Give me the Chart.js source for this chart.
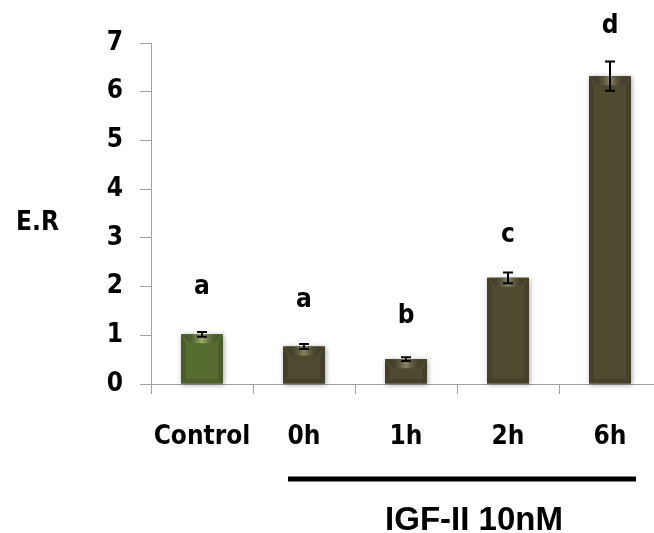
<!DOCTYPE html>
<html>
<head>
<meta charset="utf-8">
<script src="https://cdn.jsdelivr.net/npm/chart.js@4/dist/chart.umd.min.js"></script>
<style>
  html, body { margin: 0; padding: 0; background: #ffffff; overflow: hidden; }
  canvas { display: block; }
</style>
</head>
<body>
<canvas id="chart" width="661" height="533"></canvas>
<script>
// Relative expression (E.R) per group
const categories = ['Control', '0h', '1h', '2h', '6h'];
const means = [1.02, 0.77, 0.51, 2.18, 6.32];
const errors = [0.05, 0.05, 0.04, 0.11, 0.30];
// significance letters and the level (in E.R units) of their baseline
const letters = ['a', 'a', 'b', 'c', 'd'];
const letterLevels = [1.85, 1.58, 1.25, 2.92, 7.21];
const yTicks = [0, 1, 2, 3, 4, 5, 6, 7];

const LABEL_FONT = "'DejaVu Sans Condensed', 'DejaVu Sans', sans-serif";
const barColors = ['#566b30', '#4e4a2f', '#4e4a2f', '#4e4a2f', '#4e4a2f'];
const bevelLight = ['rgba(165,185,115,0.9)', 'rgba(145,140,105,0.9)', 'rgba(145,140,105,0.9)', 'rgba(145,140,105,0.9)', 'rgba(145,140,105,0.9)'];

function barRect(el) {
  const p = el.getProps(['x', 'y', 'base', 'width'], true);
  return { left: p.x - p.width / 2, right: p.x + p.width / 2, top: Math.min(p.y, p.base), bottom: Math.max(p.y, p.base), cx: p.x };
}

// soft drop shadow behind each bar
const barShadow = {
  id: 'barShadow',
  beforeDatasetsDraw(chart) {
    const ctx = chart.ctx;
    const meta = chart.getDatasetMeta(0);
    meta.data.forEach((el, i) => {
      const r = barRect(el);
      ctx.save();
      ctx.shadowColor = 'rgba(0,0,0,0.35)';
      ctx.shadowBlur = 5;
      ctx.shadowOffsetX = 1;
      ctx.shadowOffsetY = 1;
      ctx.fillStyle = barColors[i];
      ctx.fillRect(r.left, r.top, r.right - r.left, r.bottom - r.top);
      ctx.restore();
    });
  }
};

// bevel shading, error bars and group letters
const barDecor = {
  id: 'barDecor',
  afterDatasetsDraw(chart) {
    const ctx = chart.ctx;
    const y = chart.scales.y;
    const meta = chart.getDatasetMeta(0);
    meta.data.forEach((el, i) => {
      const r = barRect(el);
      const b = Math.min(9, (r.bottom - r.top) / 2);
      ctx.save();
      // top bevel
      const g = ctx.createLinearGradient(r.left, 0, r.right, 0);
      g.addColorStop(0, 'rgba(0,0,0,0.05)');
      g.addColorStop(0.5, bevelLight[i]);
      g.addColorStop(1, 'rgba(0,0,0,0.05)');
      ctx.fillStyle = g;
      ctx.beginPath();
      ctx.moveTo(r.left, r.top);
      ctx.lineTo(r.right, r.top);
      ctx.lineTo(r.right - b, r.top + b);
      ctx.lineTo(r.left + b, r.top + b);
      ctx.closePath();
      ctx.fill();
      // side bevels
      ctx.fillStyle = 'rgba(0,0,0,0.14)';
      ctx.beginPath();
      ctx.moveTo(r.left, r.top);
      ctx.lineTo(r.left + b * 0.5, r.top + b);
      ctx.lineTo(r.left + b * 0.5, r.bottom - b * 0.5);
      ctx.lineTo(r.left, r.bottom);
      ctx.closePath();
      ctx.fill();
      ctx.beginPath();
      ctx.moveTo(r.right, r.top);
      ctx.lineTo(r.right - b * 0.5, r.top + b);
      ctx.lineTo(r.right - b * 0.5, r.bottom - b * 0.5);
      ctx.lineTo(r.right, r.bottom);
      ctx.closePath();
      ctx.fill();
      // bottom bevel
      ctx.fillStyle = 'rgba(0,0,0,0.10)';
      ctx.beginPath();
      ctx.moveTo(r.left, r.bottom);
      ctx.lineTo(r.left + b * 0.5, r.bottom - b * 0.5);
      ctx.lineTo(r.right - b * 0.5, r.bottom - b * 0.5);
      ctx.lineTo(r.right, r.bottom);
      ctx.closePath();
      ctx.fill();
      ctx.restore();

      // error bar
      const yHi = y.getPixelForValue(means[i] + errors[i]);
      const yLo = y.getPixelForValue(means[i] - errors[i]);
      const cap = 5;
      ctx.save();
      ctx.strokeStyle = '#000000';
      ctx.lineWidth = 2;
      ctx.beginPath();
      ctx.moveTo(r.cx, yHi); ctx.lineTo(r.cx, yLo);
      ctx.moveTo(r.cx - cap, yHi); ctx.lineTo(r.cx + cap, yHi);
      ctx.moveTo(r.cx - cap, yLo); ctx.lineTo(r.cx + cap, yLo);
      ctx.stroke();
      ctx.restore();

      // letter
      ctx.save();
      ctx.fillStyle = '#000000';
      ctx.font = 'bold 26px ' + LABEL_FONT;
      ctx.textAlign = 'center';
      ctx.textBaseline = 'alphabetic';
      ctx.fillText(letters[i], r.cx, y.getPixelForValue(letterLevels[i]));
      ctx.restore();
    });
  },
  afterDraw(chart) {
    const ctx = chart.ctx;
    const x = chart.scales.x;
    const area = chart.chartArea;
    ctx.save();
    // axis title
    ctx.fillStyle = '#000000';
    ctx.font = 'bold 26px ' + LABEL_FONT;
    ctx.textAlign = 'right';
    ctx.textBaseline = 'middle';
    ctx.fillText('E.R', 59, (area.top + area.bottom) / 2 + 10);
    // treatment bracket
    const x0 = x.getPixelForValue(1) - 16;
    const x1 = x.getPixelForValue(4) + 26;
    ctx.strokeStyle = '#000000';
    ctx.lineWidth = 5;
    ctx.beginPath();
    ctx.moveTo(x0, 479);
    ctx.lineTo(x1, 479);
    ctx.stroke();
    ctx.font = "bold 33px 'Liberation Sans', Arial, sans-serif";
    ctx.textAlign = 'center';
    ctx.textBaseline = 'alphabetic';
    ctx.fillText('IGF-II 10nM', (x0 + x1) / 2 + 12, 530);
    ctx.restore();
  }
};

new Chart(document.getElementById('chart'), {
  type: 'bar',
  data: {
    labels: categories,
    datasets: [{
      data: means,
      backgroundColor: barColors,
      borderWidth: 0,
      barPercentage: 0.41,
      categoryPercentage: 1.0
    }]
  },
  options: {
    responsive: false,
    animation: false,
    events: [],
    layout: { padding: { top: 43, left: 0, right: 0, bottom: 0 } },
    plugins: { legend: { display: false }, tooltip: { enabled: false } },
    scales: {
      x: {
        offset: true,
        grid: { display: true, offset: true, drawOnChartArea: false, drawTicks: true, tickLength: 10, color: '#a0a0a0', lineWidth: 1 },
        border: { display: true, color: '#a0a0a0', width: 1 },
        ticks: { color: '#000000', padding: 28, font: { family: LABEL_FONT, size: 26, weight: 'bold' }, maxRotation: 0, autoSkip: false },
        afterFit(scale) { scale.height = 149; }
      },
      y: {
        min: 0,
        max: 7,
        afterBuildTicks(scale) { scale.ticks = yTicks.map(v => ({ value: v })); },
        grid: { display: true, drawOnChartArea: false, drawTicks: true, tickLength: 11, color: '#a0a0a0', lineWidth: 1 },
        border: { display: true, color: '#a0a0a0', width: 1 },
        ticks: { color: '#000000', padding: 17, font: { family: LABEL_FONT, size: 26, weight: 'bold' } },
        afterFit(scale) { scale.width = 151; }
      }
    }
  },
  plugins: [barShadow, barDecor]
});
</script>
</body>
</html>
